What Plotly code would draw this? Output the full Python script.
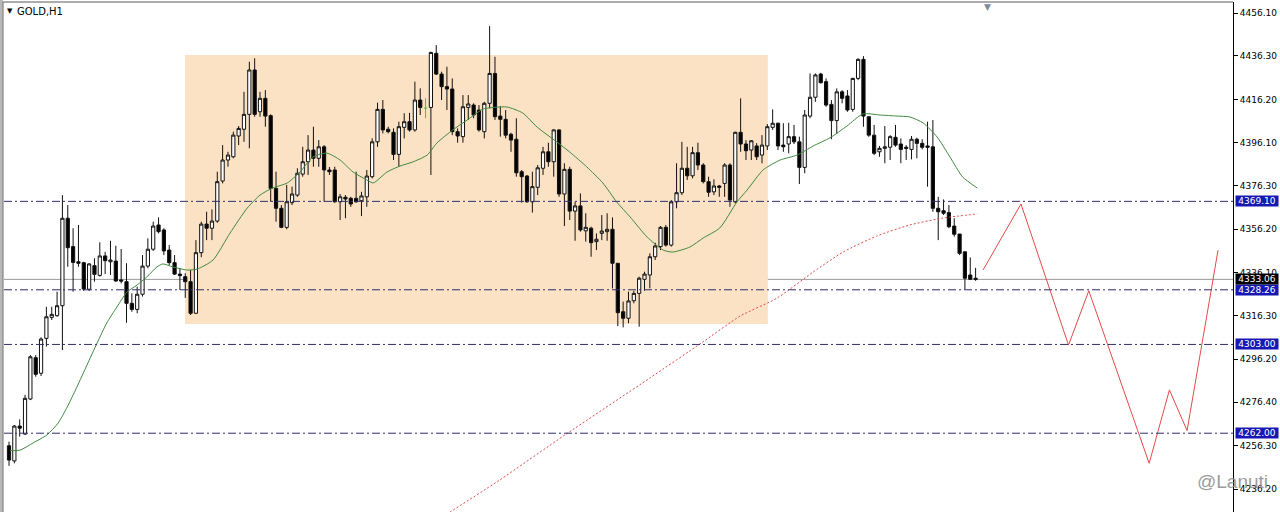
import plotly.graph_objects as go

# ---------------- data (GOLD, H1) ----------------
open_ = [4256.2, 4249.2, 4265.3, 4261.6, 4277.8, 4296.9, 4289.7, 4305.8, 4315.5, 4316.3,
         4320.9, 4361.3, 4348.2, 4341.2, 4340.8, 4328.5, 4339.4, 4334.9, 4343.9, 4341.2,
         4341.5, 4332.8, 4332.0, 4322.0, 4319.2, 4326.2, 4339.2, 4347.0, 4358.2, 4355.9,
         4346.6, 4340.8, 4335.5, 4334.3, 4332.0, 4317.4, 4345.4, 4358.6, 4356.7, 4360.0,
         4378.5, 4388.2, 4389.7, 4399.3, 4402.4, 4409.3, 4429.8, 4410.5, 4416.7, 4408.7,
         4375.1, 4365.9, 4357.1, 4368.5, 4372.0, 4381.7, 4387.4, 4392.8, 4389.0, 4394.3,
         4383.6, 4383.6, 4368.9, 4371.0, 4370.5, 4370.5, 4369.4, 4371.2, 4380.5, 4396.6,
         4411.6, 4402.4, 4401.0, 4390.8, 4403.3, 4405.9, 4402.1, 4415.9, 4412.2, 4412.5,
         4437.5, 4427.9, 4422.1, 4421.0, 4401.3, 4399.0, 4412.5, 4413.6, 4411.3, 4401.3,
         4414.4, 4428.2, 4408.5, 4407.0, 4400.1, 4397.8, 4382.8, 4380.8, 4368.9, 4375.6,
         4384.4, 4392.0, 4387.4, 4402.1, 4372.5, 4383.9, 4364.6, 4367.0, 4355.5, 4356.7,
         4350.5, 4354.3, 4355.1, 4356.2, 4340.5, 4318.1, 4315.1, 4323.2, 4326.6, 4333.1,
         4335.1, 4343.5, 4348.2, 4357.1, 4348.9, 4368.9, 4373.1, 4384.4, 4380.9, 4391.6,
         4385.9, 4378.2, 4373.5, 4376.2, 4377.4, 4385.9, 4368.9, 4401.0, 4395.6, 4392.8,
         4394.7, 4390.5, 4394.7, 4403.3, 4405.2, 4395.1, 4395.6, 4399.0, 4396.6, 4384.8,
         4408.5, 4417.2, 4427.9, 4424.4, 4413.9, 4406.4, 4419.7, 4417.8, 4411.6, 4425.9,
         4434.7, 4408.2, 4399.7, 4392.0, 4393.6, 4394.1, 4398.7, 4395.6, 4394.1, 4393.1,
         4397.8, 4395.9, 4394.7, 4394.3, 4365.9, 4364.8, 4363.9, 4357.7, 4354.0, 4345.8,
         4335.1, 4333.6]
high = [4258.1, 4265.8, 4268.4, 4279.7, 4298.1, 4298.1, 4306.3, 4320.4, 4320.4, 4327.4,
        4372.0, 4367.4, 4356.7, 4358.2, 4341.2, 4340.5, 4342.8, 4350.2, 4345.8, 4350.9,
        4348.6, 4347.1, 4340.5, 4326.6, 4329.7, 4344.3, 4352.0, 4359.7, 4361.7, 4356.7,
        4348.9, 4344.3, 4338.2, 4335.9, 4337.4, 4351.2, 4359.7, 4364.3, 4365.4, 4382.8,
        4395.1, 4392.0, 4401.3, 4403.9, 4419.7, 4433.6, 4435.2, 4419.7, 4420.5, 4409.3,
        4382.8, 4367.4, 4376.7, 4375.9, 4384.4, 4394.3, 4399.7, 4403.6, 4397.4, 4395.1,
        4385.0, 4385.1, 4372.5, 4372.0, 4371.2, 4382.8, 4373.5, 4383.6, 4398.2, 4414.7,
        4415.9, 4403.6, 4402.8, 4405.9, 4409.8, 4410.0, 4424.4, 4421.3, 4416.7, 4438.2,
        4441.3, 4429.0, 4431.3, 4425.9, 4402.8, 4418.2, 4418.2, 4414.4, 4413.6, 4415.1,
        4450.1, 4435.9, 4413.1, 4411.3, 4400.8, 4407.5, 4383.6, 4381.3, 4382.8, 4385.9,
        4394.3, 4396.2, 4402.4, 4402.4, 4386.7, 4385.1, 4368.9, 4372.8, 4363.6, 4357.4,
        4354.3, 4362.8, 4363.6, 4361.7, 4340.5, 4322.8, 4327.4, 4327.8, 4334.3, 4336.6,
        4345.1, 4350.0, 4357.7, 4358.2, 4369.7, 4386.7, 4396.6, 4394.3, 4394.3, 4396.2,
        4386.7, 4380.5, 4379.3, 4376.7, 4386.7, 4386.7, 4401.3, 4416.7, 4397.4, 4397.4,
        4396.0, 4399.7, 4404.8, 4411.6, 4405.4, 4405.2, 4405.4, 4404.4, 4399.0, 4411.3,
        4428.2, 4428.2, 4428.5, 4425.9, 4415.9, 4421.3, 4420.5, 4420.5, 4426.2, 4435.2,
        4436.2, 4408.2, 4404.4, 4394.7, 4403.9, 4399.7, 4404.4, 4398.2, 4395.1, 4399.3,
        4398.5, 4397.8, 4405.9, 4406.7, 4371.2, 4370.0, 4367.4, 4361.3, 4354.0, 4345.8,
        4343.2, 4338.4]
low = [4246.9, 4248.1, 4260.4, 4261.2, 4277.3, 4288.1, 4288.4, 4302.0, 4314.3, 4315.8,
       4300.4, 4338.9, 4327.4, 4338.9, 4327.7, 4327.7, 4332.0, 4334.3, 4335.5, 4335.1,
       4332.0, 4331.2, 4313.0, 4318.1, 4317.4, 4325.1, 4338.2, 4346.2, 4354.3, 4344.3,
       4339.7, 4335.1, 4328.2, 4324.5, 4316.6, 4317.1, 4343.3, 4351.2, 4351.2, 4359.2,
       4377.4, 4385.1, 4389.0, 4395.1, 4396.6, 4393.6, 4408.2, 4408.2, 4403.6, 4368.9,
       4359.7, 4356.7, 4356.2, 4367.4, 4371.2, 4380.5, 4381.3, 4385.1, 4385.1, 4368.9,
       4381.3, 4368.5, 4360.5, 4361.3, 4366.6, 4368.5, 4362.3, 4366.6, 4379.7, 4394.3,
       4400.5, 4400.5, 4388.2, 4385.1, 4398.2, 4401.3, 4401.3, 4409.0, 4407.5, 4381.3,
       4427.5, 4415.9, 4411.3, 4399.7, 4396.2, 4396.2, 4406.7, 4407.5, 4401.3, 4398.2,
       4412.1, 4406.7, 4399.0, 4398.2, 4392.0, 4380.5, 4368.5, 4368.5, 4363.9, 4372.0,
       4381.3, 4385.1, 4380.5, 4371.2, 4357.7, 4360.5, 4350.9, 4355.1, 4350.5, 4343.5,
       4346.6, 4351.2, 4350.9, 4328.9, 4311.5, 4310.9, 4312.8, 4322.0, 4311.2, 4327.8,
       4328.9, 4342.0, 4346.6, 4348.2, 4348.2, 4365.9, 4372.0, 4379.0, 4379.7, 4383.6,
       4377.4, 4371.2, 4372.0, 4371.2, 4371.2, 4366.6, 4368.2, 4392.0, 4388.2, 4388.2,
       4388.2, 4386.7, 4392.8, 4402.1, 4392.8, 4392.0, 4391.3, 4395.6, 4377.1, 4382.1,
       4407.5, 4415.1, 4423.6, 4412.8, 4397.8, 4400.2, 4414.4, 4410.5, 4410.5, 4425.1,
       4403.6, 4398.9, 4390.5, 4389.7, 4386.7, 4388.2, 4394.3, 4386.7, 4388.2, 4388.5,
       4389.0, 4393.1, 4375.9, 4364.3, 4351.2, 4362.8, 4356.7, 4352.8, 4344.3, 4328.5,
       4332.8, 4332.4]
close = [4249.6, 4265.3, 4264.3, 4278.1, 4297.3, 4289.2, 4305.5, 4315.8, 4316.9, 4320.9,
         4361.3, 4347.7, 4340.9, 4340.5, 4328.6, 4340.2, 4335.4, 4343.9, 4341.7, 4342.0,
         4332.3, 4332.3, 4322.0, 4319.2, 4326.2, 4339.2, 4347.0, 4357.7, 4355.1, 4346.2,
         4340.8, 4335.5, 4334.8, 4332.0, 4317.4, 4345.4, 4358.6, 4356.7, 4360.0, 4378.2,
         4388.2, 4390.5, 4399.7, 4402.8, 4409.3, 4429.8, 4409.3, 4416.7, 4408.5, 4375.1,
         4365.9, 4357.1, 4368.9, 4372.5, 4382.1, 4387.4, 4392.8, 4389.0, 4394.3, 4383.6,
         4382.8, 4368.9, 4371.2, 4370.2, 4367.9, 4368.9, 4371.6, 4380.8, 4396.6, 4411.6,
         4402.1, 4401.3, 4390.8, 4403.6, 4405.9, 4402.1, 4415.9, 4412.5, 4412.2, 4437.9,
         4427.9, 4422.1, 4421.0, 4401.3, 4399.3, 4412.8, 4414.1, 4409.0, 4402.1, 4414.4,
         4428.2, 4408.2, 4407.0, 4399.7, 4397.4, 4382.3, 4380.5, 4368.9, 4375.9, 4384.6,
         4392.0, 4387.4, 4402.1, 4372.5, 4383.9, 4364.6, 4367.0, 4355.9, 4357.1, 4350.0,
         4351.6, 4355.4, 4356.2, 4340.5, 4317.7, 4315.1, 4323.1, 4326.6, 4333.6, 4335.5,
         4343.5, 4348.5, 4357.1, 4348.9, 4368.9, 4373.1, 4384.4, 4380.9, 4391.6, 4385.9,
         4378.2, 4373.3, 4376.2, 4375.6, 4385.9, 4369.7, 4401.0, 4395.6, 4392.5, 4397.1,
         4389.7, 4395.1, 4403.6, 4405.2, 4394.7, 4394.3, 4399.0, 4396.6, 4384.8, 4409.0,
         4417.2, 4427.5, 4423.9, 4413.6, 4406.4, 4419.7, 4416.7, 4411.3, 4425.9, 4434.7,
         4408.5, 4399.7, 4391.3, 4393.6, 4394.3, 4399.0, 4395.1, 4393.1, 4393.6, 4397.8,
         4395.9, 4394.1, 4394.1, 4365.9, 4364.3, 4363.6, 4357.4, 4353.9, 4345.1, 4333.6,
         4333.1, 4333.06]
bar = list(range(1, len(close) + 1))
green_doji_bar = 79          # the one doji MT4 paints in the bull colour

# fast moving average (green), read at sample bars
ma_fast_bar = [1.2, 3.1, 5.5, 8.1, 10.2, 11.9, 13.7, 15.6, 17.5, 19.3, 21.2, 23.1, 25.0, 26.8,
               28.7, 29.8, 31.7, 34.3, 36.2, 39.2, 42.4, 45.6, 48.0, 50.4, 53.1, 55.5, 57.9,
               60.5, 63.0, 65.4, 68.0, 69.2, 71.8, 74.2, 76.6, 79.3, 81.1, 84.1, 86.8, 88.6,
               89.8, 94.2, 97.2, 99.9, 103.6, 106.0, 109.2, 112.2, 114.8, 117.3, 120.5, 123.5,
               125.3, 128.5, 131.0, 134.1, 137.3, 139.2, 142.2, 145.4, 148.6, 151.6, 154.7,
               157.9, 160.9, 164.1, 167.3, 169.7, 172.2, 174.8, 177.2, 179.6, 182.3]
ma_fast = [4253.9, 4254.2, 4257.5, 4261.2, 4266.7, 4274.1, 4283.3, 4293.5, 4303.7, 4312.9,
           4320.3, 4327.2, 4330.5, 4334.2, 4338.8, 4340.2, 4338.8, 4337.4, 4337.8, 4342.0,
           4354.5, 4366.0, 4372.0, 4375.3, 4377.6, 4382.7, 4389.6, 4391.4, 4388.2, 4382.7,
           4379.0, 4377.6, 4382.7, 4385.4, 4387.3, 4390.5, 4396.0, 4402.1, 4406.7, 4409.9,
           4411.8, 4412.7, 4409.9, 4403.4, 4396.5, 4391.9, 4385.0, 4377.6, 4368.8, 4361.9,
           4352.6, 4346.6, 4345.7, 4348.0, 4352.2, 4356.8, 4368.8, 4374.3, 4383.6, 4388.2,
           4390.5, 4394.7, 4398.4, 4403.9, 4409.5, 4409.0, 4408.5, 4408.1, 4405.3, 4398.8,
           4389.6, 4380.3, 4375.3]

# slow moving average (red dotted)
ma_slow_bar = [79.8, 83.6, 92.9, 105.1, 121.0, 130.9, 137.9, 144.8, 151.6, 157.2, 163.5,
               169.7, 175.9, 182.3]
ma_slow = [4219.6, 4225.6, 4240.4, 4261.2, 4287.5, 4304.1, 4316.1, 4324.4, 4336.5, 4345.7,
           4353.1, 4358.2, 4361.4, 4363.3]

# projected path (red zig-zag)
proj_bar = [183.4, 190.5, 199.4, 203.2, 214.5, 218.3, 221.6, 227.4]
proj_price = [4337.4, 4367.9, 4302.7, 4327.8, 4248.1, 4282.0, 4263.2, 4346.6]

levels = [4369.10, 4328.26, 4303.00, 4262.00]
last_price = 4333.06
tick_vals = [4456.10, 4436.30, 4416.20, 4396.10, 4376.30, 4356.20, 4336.10, 4316.30,
             4296.20, 4276.40, 4256.30, 4236.20]
zone_bars = [33.95, 143.1]
zone_prices = [4312.4, 4436.7]

symbol_title = "GOLD,H1"
watermark = "@Lanuti"

# ---------------- figure ----------------
FONT = "DejaVu Sans"
fig = go.Figure()

main = [i for i, b in enumerate(bar) if b != green_doji_bar]
fig.add_trace(go.Candlestick(
    x=[bar[i] for i in main],
    open=[open_[i] for i in main], high=[high[i] for i in main],
    low=[low[i] for i in main], close=[close[i] for i in main],
    increasing=dict(line=dict(color="#111111", width=1), fillcolor="#ffffff"),
    decreasing=dict(line=dict(color="#111111", width=1), fillcolor="#000000"),
    whiskerwidth=0, hoverinfo="skip", showlegend=False,
))

d = bar.index(green_doji_bar)
fig.add_trace(go.Scatter(
    x=[bar[d], bar[d], None, bar[d] - 0.3, bar[d] + 0.3],
    y=[high[d], low[d], None, open_[d], close[d]],
    mode="lines", line=dict(color="#2ecc40", width=1),
    hoverinfo="skip", showlegend=False,
))

fig.add_trace(go.Scatter(
    x=ma_fast_bar, y=ma_fast, mode="lines",
    line=dict(color="#3f8a3f", width=1, shape="spline", smoothing=0.6),
    hoverinfo="skip", showlegend=False,
))
fig.add_trace(go.Scatter(
    x=ma_slow_bar, y=ma_slow, mode="lines",
    line=dict(color="#e04a4a", width=1, dash="2px,2px", shape="spline", smoothing=0.6),
    hoverinfo="skip", showlegend=False,
))
fig.add_trace(go.Scatter(
    x=proj_bar, y=proj_price, mode="lines",
    line=dict(color="#e24a4a", width=1),
    hoverinfo="skip", showlegend=False,
))

shapes = []
# highlighted zone
shapes.append(dict(type="rect", xref="x", yref="y", x0=zone_bars[0], x1=zone_bars[1],
                   y0=zone_prices[0], y1=zone_prices[1], fillcolor="#fce2c4",
                   line=dict(width=0), layer="below"))
# bid line
shapes.append(dict(type="line", xref="paper", yref="y", x0=0, x1=1, y0=last_price,
                   y1=last_price, line=dict(color="#9a9a9a", width=1), layer="below"))
# horizontal levels
for lv in levels:
    shapes.append(dict(type="line", xref="paper", yref="y", x0=0, x1=1, y0=lv, y1=lv,
                       line=dict(color="#30306e", width=1, dash="8px,3px,2px,3px"),
                       layer="above"))
# window frame: top border and left edge
shapes.append(dict(type="line", xref="paper", yref="paper", x0=-0.003, x1=1, y0=1, y1=1,
                   line=dict(color="#5a5a5a", width=1)))
shapes.append(dict(type="rect", xref="paper", yref="paper", x0=-0.0033, x1=-0.0009,
                   y0=0, y1=1.01, fillcolor="#b8b8b8", line=dict(width=0)))
shapes.append(dict(type="line", xref="paper", yref="paper", x0=-0.0008, x1=-0.0008,
                   y0=0, y1=1, line=dict(color="#707070", width=1)))

annotations = []
for lv in levels:
    annotations.append(dict(
        xref="paper", yref="y", x=1, y=lv, xanchor="left", yanchor="middle", xshift=2,
        text=f"{lv:.2f}", showarrow=False, bgcolor="#1717b4", width=42, height=10,
        borderpad=0, font=dict(family=FONT, size=9, color="white")))
annotations.append(dict(
    xref="paper", yref="y", x=1, y=last_price, xanchor="left", yanchor="middle", xshift=2,
    text=f"{last_price:.2f}", showarrow=False, bgcolor="#000000", width=42, height=10,
    borderpad=0, font=dict(family=FONT, size=9, color="white")))
# title
annotations.append(dict(xref="paper", yref="paper", x=0.0008, y=1, xanchor="left",
                        yanchor="top", yshift=-3, text="▼", showarrow=False,
                        font=dict(family=FONT, size=7, color="#000000")))
annotations.append(dict(xref="paper", yref="paper", x=0.0105, y=1, xanchor="left",
                        yanchor="top", yshift=-2, xshift=-2, text=symbol_title,
                        showarrow=False,
                        font=dict(family=FONT, size=10, color="#000000")))
# chart-shift marker
annotations.append(dict(xref="paper", yref="paper", x=0.8006, y=1, xanchor="center",
                        yanchor="top", yshift=2, text="▼", showarrow=False,
                        font=dict(family=FONT, size=9, color="#7d8aa0")))
# watermark
annotations.append(dict(xref="paper", yref="paper", x=1.03, y=0.06, xanchor="right",
                        yanchor="middle", text=watermark, showarrow=False,
                        font=dict(family="Liberation Sans", size=19, color="#8c8c8c"),
                        opacity=0.85))

fig.update_layout(
    width=1280, height=512,
    margin=dict(l=4, r=47, t=2, b=0),
    paper_bgcolor="white", plot_bgcolor="white",
    boxgap=0.4, boxgroupgap=0,
    shapes=shapes, annotations=annotations,
    showlegend=False,
    xaxis=dict(range=[0.06, 230.2], visible=False, rangeslider=dict(visible=False),
               fixedrange=True),
    yaxis=dict(side="right", range=[4225.6, 4461.2], tickvals=tick_vals,
               ticktext=[f"{v:.2f}" for v in tick_vals], showgrid=False, zeroline=False,
               showline=True, linecolor="#000000", linewidth=1, ticks="outside",
               ticklen=4, tickcolor="#000000",
               tickfont=dict(family=FONT, size=9, color="#000000"), fixedrange=True),
)

fig.write_html("out.html", config={"displayModeBar": False, "staticPlot": True},
               post_script="document.body.style.margin='0';"
                           "document.body.style.overflow='hidden';")
